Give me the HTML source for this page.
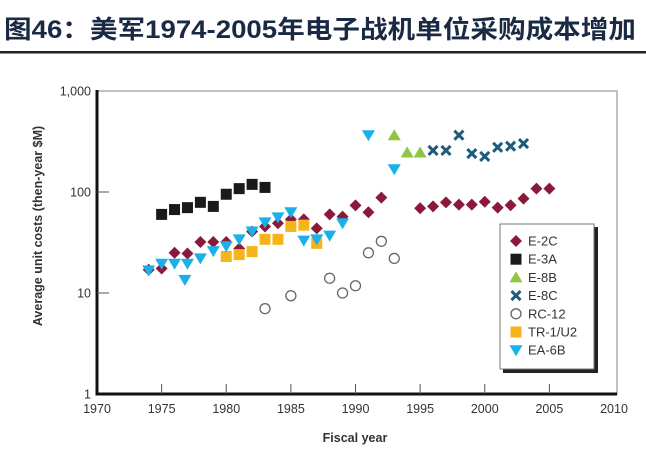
<!DOCTYPE html>
<html><head><meta charset="utf-8"><style>
html,body{margin:0;padding:0;background:#fff;width:646px;height:450px;overflow:hidden}
svg{display:block;font-family:"Liberation Sans",Arial,sans-serif}
</style></head><body>
<svg id="chart" width="646" height="450" viewBox="0 0 646 450">
<text x="4" y="38" font-family="'Liberation Sans','Noto Sans CJK SC',sans-serif" font-weight="bold" font-size="25" fill="#1b2a44" textLength="632" lengthAdjust="spacingAndGlyphs">图46：美军1974-2005年电子战机单位采购成本增加</text>
<rect x="0" y="51" width="646" height="2.5" fill="#222"/>
<g id="axes"></g>
<g id="marks"></g>
<g id="legend"></g>
</svg>
<script>
const xTicks=[1970,1975,1980,1985,1990,1995,2000,2005,2010];
const yTicks=[1,10,100,1000];
const yTickLabels=["1","10","100","1,000"];
const e2cYears=[1974,1975,1976,1977,1978,1979,1980,1981,1982,1983,1984,1985,1986,1987,1988,1989,1990,1991,1992,1995,1996,1997,1998,1999,2000,2001,2002,2003,2004,2005];
const e2cValues=[17,17.5,25,24.6,32,32,32,27.5,40.6,45.6,49,53.5,53.5,43.6,60,57,73.7,63,88,69,72,79,75,75,80,70,74,86,108,108];
const e3aYears=[1975,1976,1977,1978,1979,1980,1981,1982,1983];
const e3aValues=[60,67,70,79,72,95,108,119,111];
const e8bYears=[1993,1994,1995];
const e8bValues=[365,246,246];
const e8cYears=[1996,1997,1998,1999,2000,2001,2002,2003];
const e8cValues=[258,258,365,240,225,277,284,302];
const rc12Years=[1983,1985,1988,1989,1990,1991,1992,1993];
const rc12Values=[7,9.4,14,10,11.8,25,32.5,22];
const tr1Years=[1980,1981,1982,1983,1984,1985,1986,1987];
const tr1Values=[23,24,25.7,34,34,45.6,47,31];
const ea6bYears=[1974,1975,1976,1977,1976.8,1978,1979,1980,1981,1982,1983,1984,1985,1986,1987,1988,1989,1991,1993];
const ea6bValues=[16.7,19.5,19.5,19.5,13.5,22,26,29,34,40.6,50,56,63,33,34,37,49,365,168];

const NS="http://www.w3.org/2000/svg";
const X0=97,X1=614,Y0=394,Y1=91;
function xs(v){return X0+(v-1970)/40*(X1-X0);}
function ys(v){return Y0-Math.log10(v)/3*(Y0-Y1);}
function mk(tag,attrs,parent){const e=document.createElementNS(NS,tag);for(const k in attrs)e.setAttribute(k,attrs[k]);parent.appendChild(e);return e;}
const axes=document.getElementById('axes');
let el;
el=mk('rect',{x:X0,y:Y1,width:X1-X0+3,height:Y0-Y1,fill:'none',stroke:'#999','stroke-width':1.2},axes);


el=mk('line',{x1:X0,y1:Y1-1,x2:X0,y2:Y0+1.5,stroke:'#111','stroke-width':3},axes);


el=mk('line',{x1:X0-1.5,y1:Y0,x2:X1+3,y2:Y0,stroke:'#111','stroke-width':3},axes);


xTicks.forEach((t)=>{
  if(t>1970&&t<2010){el=mk('line',{x1:xs(t),y1:Y0,x2:xs(t),y2:Y0-10,stroke:'#555','stroke-width':1},axes);
  
  }
  el=mk('text',{x:xs(t),y:Y0+19,'text-anchor':'middle','font-size':12.5,fill:'#333'},axes);
  el.textContent=t;
  
  
});
yTicks.forEach((t,i)=>{
  if(t>1&&t<1000){el=mk('line',{x1:X0,y1:ys(t),x2:X0+12,y2:ys(t),stroke:'#555','stroke-width':1},axes);
  
  }
  el=mk('text',{x:X0-6,y:ys(t)+4.5,'text-anchor':'end','font-size':12.5,fill:'#333'},axes);
  el.textContent=yTickLabels[i];
  
  
});
el=mk('text',{x:355,y:442,'text-anchor':'middle','font-size':12.5,'font-weight':'bold',fill:'#333'},axes);
el.textContent='Fiscal year';


el=mk('text',{x:0,y:0,transform:'translate(42,226) rotate(-90)','text-anchor':'middle','font-size':12.5,'font-weight':'bold',fill:'#333'},axes);
el.textContent='Average unit costs (then-year $M)';



function marker(type,cx,cy,parent){
  let e;
  if(type==='diamond') e=mk('polygon',{points:`${cx},${cy-6} ${cx+6},${cy} ${cx},${cy+6} ${cx-6},${cy}`,fill:'#8b1a3a'},parent);
  else if(type==='square') e=mk('rect',{x:cx-5.5,y:cy-5.5,width:11,height:11,fill:'#1a1a1a'},parent);
  else if(type==='tri') e=mk('polygon',{points:`${cx},${cy-6} ${cx+6.5},${cy+5} ${cx-6.5},${cy+5}`,fill:'#8dc63f'},parent);
  else if(type==='x'){e=mk('path',{d:`M${cx-4.5},${cy-4.5}L${cx+4.5},${cy+4.5}M${cx+4.5},${cy-4.5}L${cx-4.5},${cy+4.5}`,stroke:'#1d5b7a','stroke-width':3},parent);}
  else if(type==='circle') e=mk('circle',{cx:cx,cy:cy,r:5,fill:'#fff',stroke:'#666','stroke-width':1.3},parent);
  else if(type==='sq2') e=mk('rect',{x:cx-5.5,y:cy-5.5,width:11,height:11,fill:'#f5b41a'},parent);
  else if(type==='tridown') e=mk('polygon',{points:`${cx-6.5},${cy-5} ${cx+6.5},${cy-5} ${cx},${cy+6}`,fill:'#1ab0e8'},parent);
  return e;
}
const series=[
  ['E-2C','diamond',e2cYears,e2cValues,'e2c'],
  ['E-3A','square',e3aYears,e3aValues,'e3a'],
  ['E-8B','tri',e8bYears,e8bValues,'e8b'],
  ['E-8C','x',e8cYears,e8cValues,'e8c'],
  ['RC-12','circle',rc12Years,rc12Values,'rc12'],
  ['TR-1/U2','sq2',tr1Years,tr1Values,'tr1'],
  ['EA-6B','tridown',ea6bYears,ea6bValues,'ea6b']
];
const marks=document.getElementById('marks');
series.forEach(s=>{
  s[2].forEach((yr,i)=>{
    const e=marker(s[1],xs(yr),ys(s[3][i]),marks);
    
    
  });
});
const lg=document.getElementById('legend');
el=mk('rect',{x:503,y:227,width:95,height:146,fill:'#222'},lg);


el=mk('rect',{x:500,y:224,width:94,height:145,fill:'#fff',stroke:'#777','stroke-width':1},lg);


series.forEach((s,i)=>{
  const cy=241+i*18.2;
  const m=marker(s[1],516,cy,lg);
  
  
  const t=mk('text',{x:528,y:cy+4.5,'font-size':13,fill:'#333'},lg);
  t.textContent=s[0];
  
  
});
</script>
</body></html>
